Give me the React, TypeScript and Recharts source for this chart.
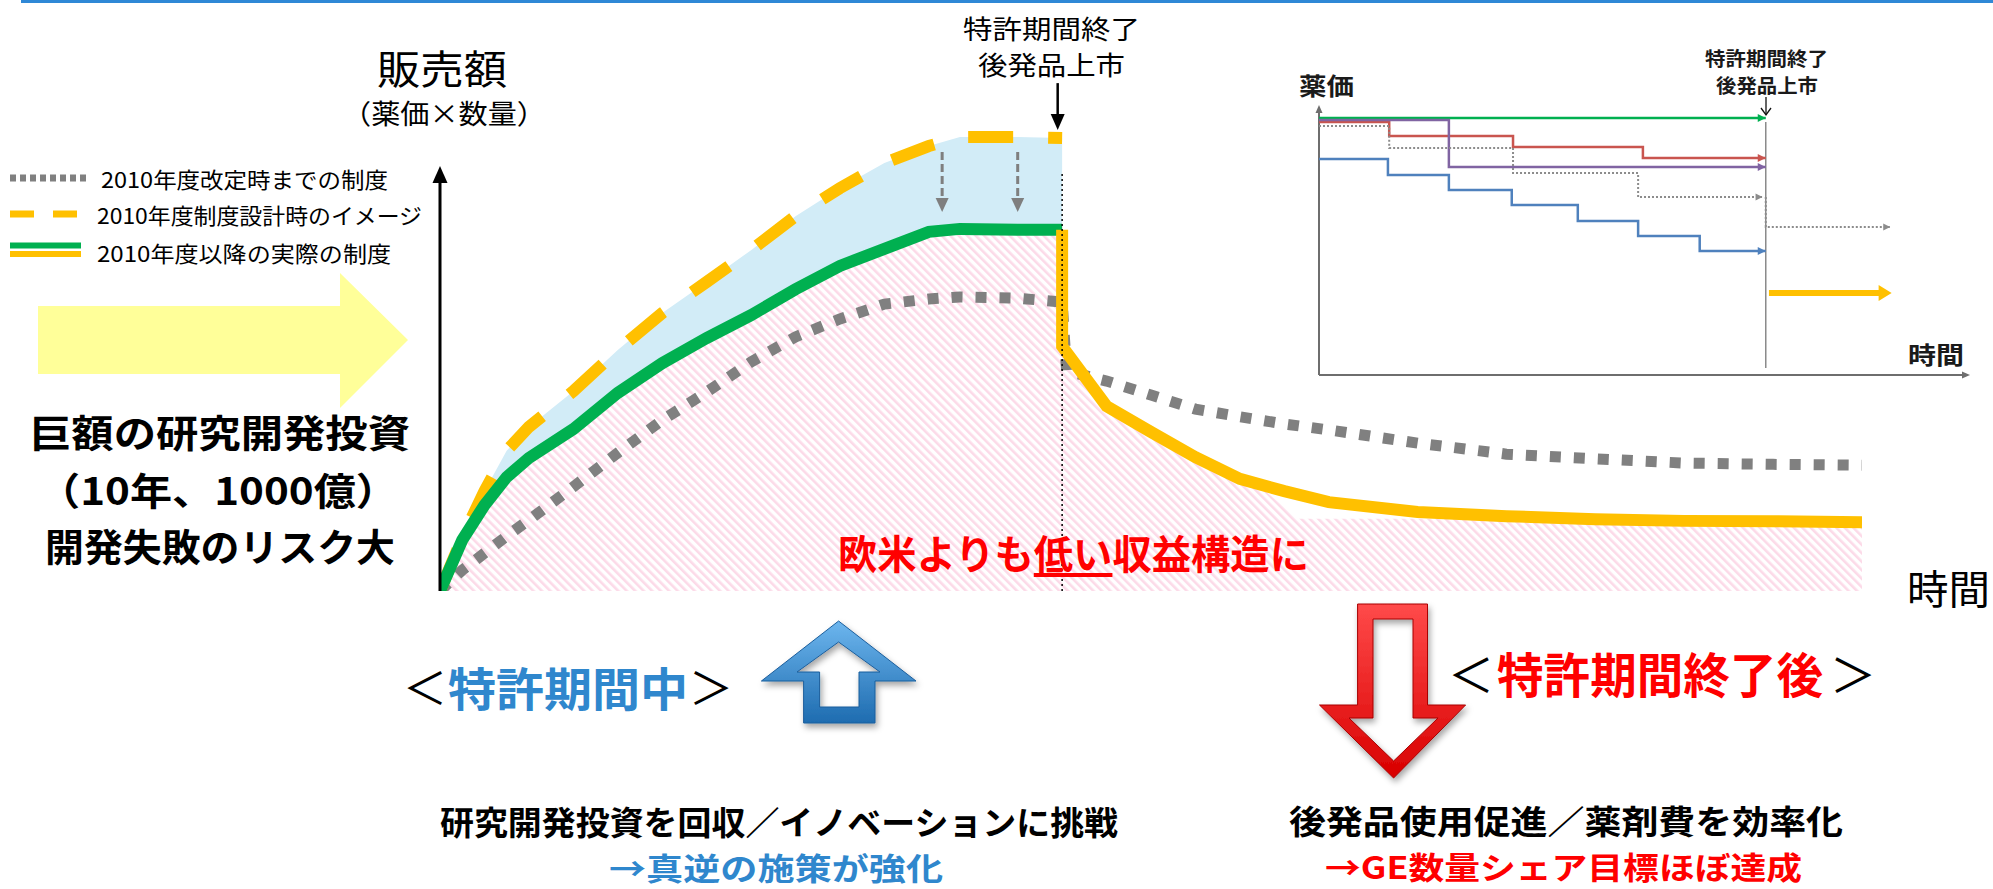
import React from "react";
import {
  ComposedChart,
  LineChart,
  Line,
  Area,
  XAxis,
  YAxis,
  ReferenceLine,
} from "recharts";

const FONT = "'Noto Sans CJK JP', 'Noto Sans', sans-serif";

// 販売額 index by year since launch, until patent expiry
const growthYears = [0, 0.5, 1, 1.5, 2, 3, 4, 5, 6, 7, 8, 9, 10, 11, 11.7, 13, 14];
const designSales = [0, 12.5, 23.5, 33, 38.6, 47, 56.7, 65.4, 72.7, 80.2, 88.2, 94.8, 100.7, 104.7, 106.8, 106.8, 106.6];
const actualSales = [0, 12, 20.2, 26.8, 31.3, 38.1, 46.6, 53.6, 59.5, 64.9, 71, 76.5, 80.5, 84.5, 85.2, 85, 85];
const oldSales = [0, 4.9, 8.9, 12.9, 16.7, 24.5, 32.5, 40.2, 46.8, 53.9, 59.8, 64, 67.5, 68.7, 69.2, 68.9, 68];

// after generics enter the market
const declineYears = [14, 14, 15, 16, 17, 18, 19, 20, 22, 24, 26, 28, 30, 32];
const actualAfter = [85, 57.6, 43.5, 37.4, 31.5, 26.4, 23.5, 20.9, 18.6, 17.6, 16.9, 16.5, 16.4, 16.2];
const oldDeclineYears = [14, 14.1, 15, 16, 17, 18, 19, 20, 22, 24, 26, 28, 30, 32];
const oldAfter = [68, 51.8, 49.4, 46.1, 42.8, 41, 39.3, 37.9, 34.8, 32.2, 31.1, 30.1, 29.8, 29.6];

// top edge of the low-profit (hatched) region after expiry
const hatchYears = [14, 14, 15, 16, 17, 18, 18.5, 19.3, 32];
const hatchTop = [85, 57.6, 43.5, 37.4, 31.5, 26.4, 24.2, 17, 17];

const PATENT_YEAR = 14;
const AXIS_END_YEAR = 32;
const AXIS_TOP = 100;
const cutYears = [11.3, 13];
const cutFrom = 103.3;
const cutTo = 89.2;

// inset: 薬価 by year, step revisions
const greenPriceYears = [0, 14];
const greenPrice = [95.2, 95.2];
const redPriceYears = [0, 2.2, 6.08, 10.15, 14];
const redPrice = [93.7, 88.5, 84.4, 80.4, 80.4];
const purplePriceYears = [0, 4.07, 14];
const purplePrice = [94.4, 77, 77];
const greyPriceYears = [0, 2.2, 6.08, 10, 13.9];
const greyPrice = [92.2, 84.1, 74.8, 65.9, 65.9];
const greyGenericYears = [14, 14, 17.9];
const greyGenericPrice = [65.9, 54.8, 54.8];
const bluePriceYears = [0, 2.16, 4.07, 6.04, 8.11, 10, 11.93, 14];
const bluePrice = [80, 74.1, 68.5, 63, 57, 51.5, 45.9, 45.9];
const genericYears = [14.1, 17.6];
const genericPrice = [30.4, 30.4];
const INSET_END_YEAR = 20.4;

const zip = (xs: number[], ys: any[]) => xs.map((x, i) => ({ x, y: ys[i] }));

const designData = zip(growthYears, designSales);
const actualData = zip(growthYears, actualSales);
const afterData = zip(declineYears, actualAfter);
const oldData = [...zip(growthYears, oldSales), ...zip(oldDeclineYears, oldAfter)];
const hatchData = [...zip(growthYears, actualSales), ...zip(hatchYears, hatchTop)];
const bandData = growthYears.map((x, i) => ({ x, y: [actualSales[i], designSales[i]] }));

function arrowShape(color: string, width: number, headLen: number, headW: number, dash?: string) {
  return (props: any) => {
    const { x1, y1, x2, y2 } = props;
    const a = Math.atan2(y2 - y1, x2 - x1);
    const c = Math.cos(a);
    const s = Math.sin(a);
    const bx = x2 - headLen * c;
    const by = y2 - headLen * s;
    const hx = (-s * headW) / 2;
    const hy = (c * headW) / 2;
    return (
      <g>
        <line x1={x1} y1={y1} x2={bx + c} y2={by + s} stroke={color} strokeWidth={width} strokeDasharray={dash} />
        <polygon points={`${x2},${y2} ${bx + hx},${by + hy} ${bx - hx},${by - hy}`} fill={color} />
      </g>
    );
  };
}

// arrow head on the last point of a step line
function endArrow(color: string, len: number, w: number, last: number, over = 0) {
  return (p: any) => {
    if (p.index !== last) return <g key={`d${p.index}`} />;
    const tx = p.cx + over;
    return (
      <polygon
        key={`d${p.index}`}
        points={`${tx},${p.cy} ${tx - len},${p.cy - w / 2} ${tx - len},${p.cy + w / 2}`}
        fill={color}
      />
    );
  };
}

function Label(props: {
  x: number;
  y: number;
  w?: number;
  size: number;
  weight?: number;
  color?: string;
  anchor?: "start" | "middle";
  children: React.ReactNode;
}) {
  const { x, y, w, size, weight = 400, color = "#000", anchor = "start", children } = props;
  return (
    <text
      x={x}
      y={y}
      textLength={w}
      lengthAdjust={w ? "spacingAndGlyphs" : undefined}
      fontSize={size}
      fontWeight={weight}
      fill={color}
      textAnchor={anchor}
      dominantBaseline="central"
      fontFamily={FONT}
    >
      {children}
    </text>
  );
}

function SalesChart() {
  return (
    <ComposedChart width={1993} height={889} margin={{ top: 38.5, right: 131, bottom: 298, left: 440 }}>
      <defs>
        <pattern id="pinkHatch" width="6" height="6" patternUnits="userSpaceOnUse" patternTransform="rotate(-45)">
          <rect width="6" height="6" fill="#fff" />
          <rect width="2.6" height="6" fill="#FCDAE8" />
        </pattern>
      </defs>
      <XAxis type="number" dataKey="x" domain={[0, AXIS_END_YEAR]} hide allowDataOverflow />
      <YAxis type="number" domain={[0, 130]} hide allowDataOverflow />
      <Area data={bandData} dataKey="y" type="linear" stroke="none" fill="#D2ECF7" fillOpacity={1} isAnimationActive={false} />
      <Area data={hatchData} dataKey="y" type="linear" stroke="none" fill="url(#pinkHatch)" fillOpacity={1} baseValue={0} isAnimationActive={false} />
      <Line data={oldData} dataKey="y" type="linear" stroke="#808080" strokeWidth={11} strokeDasharray="11 13" dot={false} activeDot={false} isAnimationActive={false} />
      <Line data={designData} dataKey="y" type="linear" stroke="#FFC000" strokeWidth={12} strokeDasharray="45 35" dot={false} activeDot={false} isAnimationActive={false} />
      <Line data={actualData} dataKey="y" type="linear" stroke="#00B050" strokeWidth={12} dot={false} activeDot={false} isAnimationActive={false} />
      <Line data={afterData} dataKey="y" type="linear" stroke="#FFC000" strokeWidth={12} dot={false} activeDot={false} isAnimationActive={false} />
      <ReferenceLine
        segment={[{ x: PATENT_YEAR, y: 0 }, { x: PATENT_YEAR, y: 98.4 }]}
        stroke="#000"
        strokeWidth={1.5}
        strokeDasharray="2 3"
      />
      {cutYears.map((yr) => (
        <ReferenceLine
          key={yr}
          segment={[{ x: yr, y: cutFrom }, { x: yr, y: cutTo }]}
          shape={arrowShape("#7F7F7F", 3, 14, 13, "8 4")}
        />
      ))}
      <ReferenceLine
        segment={[{ x: 13.9, y: 119.5 }, { x: 13.9, y: 108.5 }]}
        shape={arrowShape("#000", 2.5, 16, 14)}
      />
      <ReferenceLine segment={[{ x: 0, y: 0 }, { x: 0, y: AXIS_TOP }]} shape={arrowShape("#000", 3, 17, 15)} />
      <ReferenceLine segment={[{ x: -0.03, y: 0 }, { x: AXIS_END_YEAR, y: 0 }]} shape={arrowShape("#000", 3, 17, 15)} />
    </ComposedChart>
  );
}

function PriceInset() {
  const common = { dataKey: "y", type: "stepAfter" as const, activeDot: false as const, isAnimationActive: false };
  return (
    <LineChart width={700} height={300} margin={{ top: 15, right: 20, bottom: 15, left: 29 }}>
      <XAxis type="number" dataKey="x" domain={[0, INSET_END_YEAR]} hide allowDataOverflow />
      <YAxis type="number" domain={[0, 100]} hide allowDataOverflow />
      <ReferenceLine segment={[{ x: PATENT_YEAR, y: 2.6 }, { x: PATENT_YEAR, y: 93.7 }]} stroke="#8A8A8A" strokeWidth={1.5} />
      <ReferenceLine segment={[{ x: 0, y: 0 }, { x: 0, y: 100 }]} shape={arrowShape("#6E6E6E", 2, 8, 7)} />
      <ReferenceLine segment={[{ x: 0, y: 0 }, { x: INSET_END_YEAR, y: 0 }]} shape={arrowShape("#6E6E6E", 2, 8, 7)} />
      <Line {...common} data={zip(greenPriceYears, greenPrice)} stroke="#00B050" strokeWidth={2.5} dot={endArrow("#00B050", 8, 8, greenPriceYears.length - 1)} />
      <Line {...common} data={zip(redPriceYears, redPrice)} stroke="#C9554F" strokeWidth={2.5} dot={endArrow("#C9554F", 8, 8, redPriceYears.length - 1)} />
      <Line {...common} data={zip(purplePriceYears, purplePrice)} stroke="#8064A2" strokeWidth={2.5} dot={endArrow("#8064A2", 8, 8, purplePriceYears.length - 1)} />
      <Line {...common} data={zip(greyPriceYears, greyPrice)} stroke="#8C8C8C" strokeWidth={2} strokeDasharray="2 2" dot={endArrow("#8C8C8C", 7, 7, greyPriceYears.length - 1)} />
      <Line {...common} data={zip(greyGenericYears, greyGenericPrice)} stroke="#8C8C8C" strokeWidth={2} strokeDasharray="2 2" dot={endArrow("#8C8C8C", 7, 7, greyGenericYears.length - 1)} />
      <Line {...common} data={zip(bluePriceYears, bluePrice)} stroke="#4F81BD" strokeWidth={2.5} dot={endArrow("#4F81BD", 8, 8, bluePriceYears.length - 1)} />
      <Line {...common} data={zip(genericYears, genericPrice)} stroke="#FFC000" strokeWidth={6} dot={endArrow("#FFC000", 13, 16, genericYears.length - 1, 11)} />
    </LineChart>
  );
}

function Annotations() {
  return (
    <svg width={1993} height={889} style={{ position: "absolute", left: 0, top: 0, pointerEvents: "none" }}>
      <defs>
        <linearGradient id="blueArrow" x1="0" y1="0" x2="0" y2="1">
          <stop offset="0" stopColor="#6DB6EE" />
          <stop offset="1" stopColor="#1E6CB0" />
        </linearGradient>
        <linearGradient id="redArrow" x1="0" y1="0" x2="0" y2="1">
          <stop offset="0" stopColor="#FF4A4A" />
          <stop offset="1" stopColor="#D80000" />
        </linearGradient>
        <filter id="dropShadow" x="-20%" y="-20%" width="140%" height="150%">
          <feDropShadow dx="2" dy="4" stdDeviation="3" floodOpacity="0.35" />
        </filter>
      </defs>

      <rect x={21} y={0} width={1972} height={3} fill="#2F88D6" />

      {/* legend */}
      <line x1={10} y1={178} x2={86} y2={178} stroke="#808080" strokeWidth={7} strokeDasharray="6 4" />
      <line x1={10} y1={214} x2={77} y2={214} stroke="#FFC000" strokeWidth={7} strokeDasharray="24 19" />
      <line x1={10} y1={245.5} x2={81} y2={245.5} stroke="#00B050" strokeWidth={6} />
      <line x1={10} y1={254} x2={81} y2={254} stroke="#FFC000" strokeWidth={6} />
      <Label x={101} y={178} w={287} size={22}>2010年度改定時までの制度</Label>
      <Label x={97} y={214} w={325} size={22}>2010年度制度設計時のイメージ</Label>
      <Label x={97} y={252} w={294} size={22}>2010年度以降の実際の制度</Label>

      {/* investment arrow and notes */}
      <polygon points="38,306 340,306 340,273 408,340 340,408 340,374 38,374" fill="#FFFF99" />
      <Label x={29} y={430} w={381} size={38} weight={700}>巨額の研究開発投資</Label>
      <Label x={38} y={488} w={360} size={38} weight={700}>（10年、1000億）</Label>
      <Label x={45} y={544} w={350} size={38} weight={700}>開発失敗のリスク大</Label>

      {/* main axis titles */}
      <Label x={377} y={67} w={130} size={40}>販売額</Label>
      <Label x={342} y={112} w={204} size={27}>（薬価×数量）</Label>
      <Label x={1907} y={587} w={83} size={40}>時間</Label>
      <Label x={963} y={27} w={177} size={26}>特許期間終了</Label>
      <Label x={978} y={63} w={147} size={26}>後発品上市</Label>

      <text
        x={838}
        y={552}
        textLength={471}
        lengthAdjust="spacingAndGlyphs"
        fontSize={40}
        fontWeight={700}
        fill="#FF0000"
        dominantBaseline="central"
        fontFamily={FONT}
      >
        欧米よりも<tspan style={{ textDecoration: "underline" }}>低い</tspan>収益構造に
      </text>

      {/* inset labels */}
      <Label x={1299} y={84} w={55} size={24} weight={700} color="#1A1A1A">薬価</Label>
      <Label x={1908} y={353} w={56} size={24} weight={700} color="#1A1A1A">時間</Label>
      <Label x={1705} y={57} w={123} size={19} weight={700} color="#1A1A1A">特許期間終了</Label>
      <Label x={1716} y={84} w={102} size={19} weight={700} color="#1A1A1A">後発品上市</Label>
      <line x1={1766} y1={97} x2={1766} y2={115} stroke="#111" strokeWidth={1.3} />
      <polyline points="1761,108 1766,115 1771,108" fill="none" stroke="#111" strokeWidth={1.3} />

      {/* during patent */}
      <Label x={425} y={686} size={44} weight={400} anchor="middle">＜</Label>
      <Label x={448} y={686} w={240} size={46} weight={700} color="#2F87CD">特許期間中</Label>
      <Label x={711} y={686} size={44} weight={400} anchor="middle">＞</Label>
      <path
        d="M838.6,621 L916,681 L875,681 L875,723 L803.6,723 L803.6,681 L761.4,681 Z M838.6,642 L880,672 L859,672 L859,707 L819.6,707 L819.6,672 L797,672 Z"
        fill="url(#blueArrow)"
        fillRule="evenodd"
        stroke="#1B5E9C"
        strokeWidth={1}
        filter="url(#dropShadow)"
      />
      <Label x={440} y={821} w={678} size={33} weight={700}>研究開発投資を回収／イノベーションに挑戦</Label>
      <Label x={609} y={866} w={334} size={31} weight={700} color="#2F87CD">→真逆の施策が強化</Label>

      {/* after patent */}
      <path
        d="M1357.6,604 L1427.5,604 L1427.5,705 L1465.6,705 L1393.6,778 L1319.5,705 L1357.6,705 Z M1373,619 L1413,619 L1413,718 L1438,718 L1393.6,761 L1349,718 L1373,718 Z"
        fill="url(#redArrow)"
        fillRule="evenodd"
        stroke="#A80000"
        strokeWidth={1}
        filter="url(#dropShadow)"
      />
      <Label x={1471} y={672} size={46} weight={400} anchor="middle">＜</Label>
      <Label x={1497} y={672} w={326} size={48} weight={700} color="#FF0000">特許期間終了後</Label>
      <Label x={1853} y={672} size={46} weight={400} anchor="middle">＞</Label>
      <Label x={1289} y={820} w={554} size={33} weight={700}>後発品使用促進／薬剤費を効率化</Label>
      <Label x={1325} y={865} w={477} size={31} weight={700} color="#FF0000">→GE数量シェア目標ほぼ達成</Label>
    </svg>
  );
}

export default function App() {
  return (
    <div
      style={{
        position: "absolute",
        left: 0,
        top: 0,
        width: 1993,
        height: 889,
        background: "#fff",
        overflow: "hidden",
        fontFamily: FONT,
      }}
    >
      <div style={{ position: "absolute", left: 0, top: 0 }}>
        <SalesChart />
      </div>
      <div style={{ position: "absolute", left: 1290, top: 90 }}>
        <PriceInset />
      </div>
      <Annotations />
    </div>
  );
}
